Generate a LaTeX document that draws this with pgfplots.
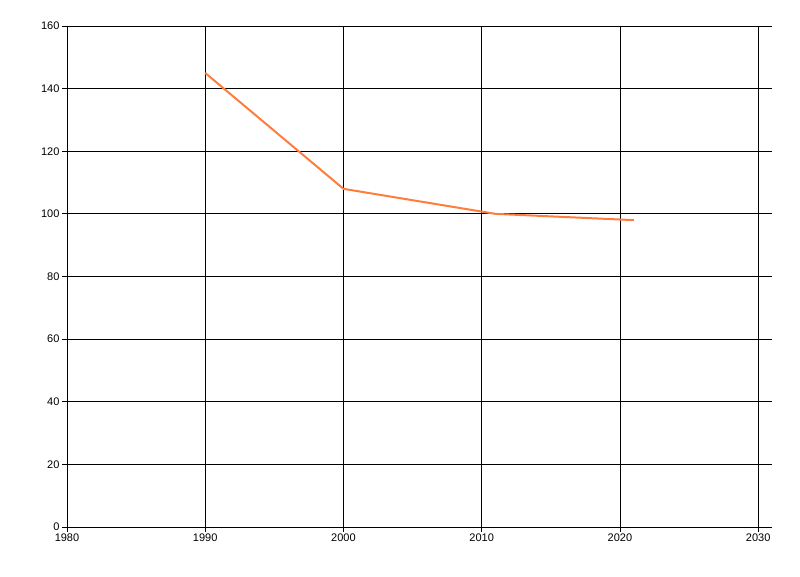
\documentclass[border=0pt]{standalone}
\usepackage{fontspec}
\setmainfont{Liberation Sans}
\usepackage{pgfplots}
\pgfplotsset{compat=1.18}
\definecolor{lineorange}{RGB}{255,125,60}
\begin{document}
\begin{tikzpicture}
\begin{axis}[
  scale only axis,
  width=705pt, height=501pt,
  xmin=1980, xmax=2031,
  ymin=0, ymax=160,
  xtick={1980,1990,...,2030},
  ytick={0,20,...,160},
  axis lines=left,
  axis line style={-, black, line width=0.8pt},
  grid=major,
  grid style={black, line width=0.8pt},
  tick align=outside,
  major tick length=5pt,
  tick style={black, line width=0.8pt},
  xticklabel style={font=\fontsize{11}{13}\selectfont, yshift=2pt},
  yticklabel style={font=\fontsize{11}{13}\selectfont, xshift=1pt},
  /pgf/number format/assume math mode=true,
  /pgf/number format/1000 sep={},
  clip=false,
]
\addplot[lineorange, line width=2pt] coordinates {
  (1990,145)
  (2000,108)
  (2011,100)
  (2021,98)
};
\end{axis}
\path[use as bounding box] (-67pt,-49pt) rectangle (733pt,527pt);
\end{tikzpicture}
\end{document}
